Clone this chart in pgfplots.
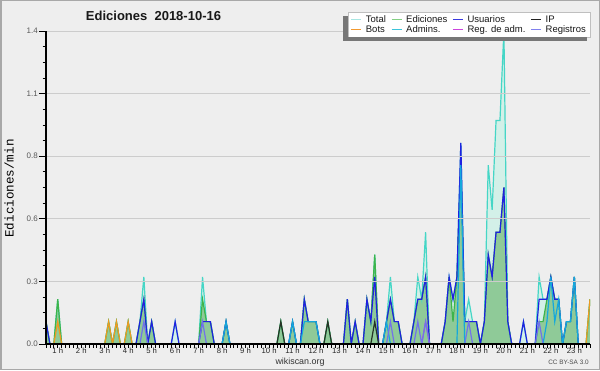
\documentclass[border=0pt]{standalone}
\usepackage{pgfplots}
\pgfplotsset{compat=1.18}
\usepackage{pgfplotstable}
\usepackage{fontspec}
\setmainfont{Liberation Sans}
\newfontfamily\monofont{Liberation Mono}

\definecolor{bg}{HTML}{EEEEEE}
\definecolor{framec}{HTML}{A8A8A8}
\definecolor{gridc}{HTML}{CCCCCC}
\definecolor{shadowc}{HTML}{777777}
\definecolor{cTot}{HTML}{45D6C6}
\definecolor{cTotFill}{HTML}{D3F0E8}
\definecolor{cEd}{HTML}{3DB44A}
\definecolor{cEdFill}{HTML}{88C690}
\definecolor{cUs}{HTML}{2020E0}
\definecolor{cIP}{HTML}{263326}
\definecolor{cBot}{HTML}{EE9A22}
\definecolor{cAdm}{HTML}{14A8DC}
\definecolor{cRA}{HTML}{C040E0}
\definecolor{cReg}{HTML}{7272EA}
\definecolor{lTot}{HTML}{A8E6E2}
\definecolor{lEd}{HTML}{84D084}
\definecolor{lUs}{HTML}{3A3AE0}
\definecolor{lIP}{HTML}{222222}
\definecolor{lBot}{HTML}{F29A30}
\definecolor{lAdm}{HTML}{3CC4DA}
\definecolor{lRA}{HTML}{CC44DD}
\definecolor{lReg}{HTML}{8080EE}

\pgfplotstableread{
k T E U I B A RA R
3 0.1 0.1 0.1 0 0 0 0 0
4 0 0 0 0 0 0 0 0
5 0 0 0 0 0 0 0 0
6 0.2 0.2 0 0 0.1 0 0 0
7 0 0 0 0 0 0 0 0
18 0 0 0 0 0 0 0 0
19 0.1 0.1 0 0 0.1 0 0 0
20 0 0 0 0 0 0 0 0
21 0.1 0.1 0 0 0.1 0 0 0
22 0 0 0 0 0 0 0 0
23 0 0 0 0 0 0 0 0
24 0.1 0.1 0 0 0.1 0 0 0
25 0 0 0 0 0 0 0 0
26 0 0 0 0 0 0 0 0
27 0.1 0.1 0.1 0 0 0 0 0
28 0.3 0.2 0.2 0 0 0 0 0.1
29 0 0 0 0 0 0 0 0
30 0.1 0.1 0.1 0 0 0 0 0
31 0 0 0 0 0 0 0 0
35 0 0 0 0 0 0 0 0
36 0.1 0 0.1 0 0 0 0 0
37 0 0 0 0 0 0 0 0
42 0 0 0 0 0 0 0 0
43 0.3 0.2 0.1 0 0 0 0 0.1
44 0.1 0.1 0.1 0 0 0 0 0
45 0.1 0.1 0.1 0 0 0 0 0
46 0 0 0 0 0 0 0 0
48 0 0 0 0 0 0 0 0
49 0.1 0.1 0.1 0 0 0.1 0 0
50 0 0 0 0 0 0 0 0
62 0 0 0 0 0 0 0 0
63 0.1 0.1 0 0.1 0 0 0 0
64 0 0 0 0 0 0 0 0
65 0 0 0 0 0 0 0 0
66 0.1 0.1 0.1 0 0 0.1 0 0
67 0 0 0 0 0 0 0 0
68 0 0 0 0 0 0 0 0
69 0.2 0.2 0.2 0 0 0.1 0 0
70 0.1 0.1 0.1 0 0 0.1 0 0
71 0.1 0.1 0.1 0 0 0.1 0 0
72 0.1 0.1 0.1 0 0 0.1 0 0
73 0 0 0 0 0 0 0 0
74 0 0 0 0 0 0 0 0
75 0.1 0.1 0 0.1 0 0 0 0
76 0 0 0 0 0 0 0 0
79 0 0 0 0 0 0 0 0
80 0.2 0.2 0.2 0 0 0 0 0
81 0 0 0 0 0 0 0 0
82 0.1 0.1 0.1 0 0 0 0 0
83 0 0 0 0 0 0 0 0
84 0 0 0 0 0 0 0 0
85 0.2 0.2 0.2 0 0 0 0 0
86 0.1 0.1 0.1 0 0 0 0 0
87 0.4 0.4 0.3 0.1 0 0 0 0
88 0 0 0 0 0 0 0 0
89 0 0 0 0 0 0 0 0
90 0.1 0.1 0.1 0 0 0.1 0 0
91 0.3 0.2 0.2 0 0 0 0 0.1
92 0.1 0.1 0.1 0 0 0 0 0
93 0.1 0.1 0.1 0 0 0 0 0
94 0 0 0 0 0 0 0 0
96 0 0 0 0 0 0 0 0
97 0.1 0.1 0.1 0 0 0 0 0
98 0.3 0.2 0.2 0 0 0 0 0.1
99 0.2 0.2 0.2 0 0 0 0 0
100 0.5 0.3 0.3 0 0 0 0.1 0.1
101 0 0 0 0 0 0 0 0
104 0 0 0 0 0 0 0 0
105 0.1 0.1 0.1 0 0 0 0 0
106 0.3 0.3 0.3 0 0 0 0 0
107 0.2 0.1 0.2 0 0 0 0 0
108 0.3 0.3 0.3 0 0 0 0 0
109 0.9 0.8 0.9 0 0 0.8 0 0
110 0.1 0.1 0.1 0 0 0 0 0
111 0.2 0.1 0.1 0 0 0 0 0.1
112 0.1 0.1 0.1 0 0 0 0 0
113 0.1 0.1 0.1 0 0 0 0 0
114 0 0 0 0 0 0 0 0
115 0.1 0.1 0.1 0 0 0 0 0
116 0.8 0.4 0.4 0 0 0 0 0
117 0.6 0.3 0.3 0 0 0 0 0
118 1.0 0.5 0.5 0 0 0 0 0
119 1.0 0.5 0.5 0 0 0 0 0
120 1.4 0.7 0.7 0 0 0 0 0
121 0.1 0.1 0.1 0 0 0 0 0
122 0 0 0 0 0 0 0 0
124 0 0 0 0 0 0 0 0
125 0.1 0 0.1 0 0 0 0 0
126 0 0 0 0 0 0 0 0
128 0 0 0 0 0 0 0 0
129 0.3 0.1 0.2 0 0 0 0 0.1
130 0.2 0.1 0.2 0 0 0 0 0
131 0.2 0.2 0.2 0 0 0.1 0 0
132 0.3 0.3 0.3 0 0 0.3 0 0
133 0.2 0.2 0.2 0 0 0.1 0 0
134 0.2 0.2 0.2 0 0 0.2 0 0
135 0 0 0 0 0 0 0 0
136 0.1 0.1 0.1 0 0 0.1 0 0
137 0.1 0.1 0.1 0 0 0.1 0 0
138 0.3 0.3 0.3 0 0 0.3 0 0
139 0 0 0 0 0 0 0 0
141 0 0 0 0 0 0 0 0
142 0.2 0.2 0 0 0.2 0 0 0
}\data

\begin{document}
\begin{tikzpicture}[x=1pt,y=1pt]
\fill[bg] (0,0) rectangle (600,370);
\draw[framec,line width=1.5pt] (0.75,0.75) rectangle (599.25,369.25);
\begin{axis}[
  at={(46pt,26pt)}, anchor=south west,
  scale only axis, width=544pt, height=313pt,
  xmin=0.5, xmax=23.6667, ymin=0, ymax=1.4,
  axis x line*=bottom, axis y line*=left,
  axis line style={black, line width=1.3pt},
  axis on top,
  ymajorgrids,
  major grid style={gridc, line width=0.8pt},
  tick align=outside,
  major tick length=7pt, minor tick length=3.5pt,
  tick style={black, line width=0.8pt},
  xtick={1,...,23},
  xticklabels={1 h,2 h,3 h,4 h,5 h,6 h,7 h,8 h,9 h,10 h,11 h,12 h,13 h,14 h,15 h,16 h,17 h,18 h,19 h,20 h,21 h,22 h,23 h},
  minor xtick={0.5,0.6666667,...,23.7},
  major x tick style={draw=none},
  ytick={0,0.28,0.56,0.84,1.12,1.4},
  yticklabels={0.0,0.3,0.6,0.8,1.1,1.4},
  minor y tick num=3,
  xticklabel style={font=\fontsize{7.7}{8}\selectfont, text=black!85, inner sep=0pt, yshift=3pt},
  yticklabel style={font=\fontsize{8}{8}\selectfont, text=black!65, inner sep=1pt},
  legend columns=4,
  legend cell align=left,
  legend style={at={(1,1.0617)}, anchor=north east, draw=black!25, fill=white,
    font=\fontsize{9.5}{10}\selectfont, text=black!90,
    inner xsep=3pt, inner ysep=2.5pt, row sep=0pt, column sep=0pt,
    /tikz/every odd column/.append style={column sep=3pt},
    /tikz/every even column/.append style={column sep=4pt},
    nodes={inner sep=1pt, text depth=1.5pt, text height=6.8pt}},
  legend image code/.code={\draw[#1, line width=1.2pt] (0pt,0pt) -- (10pt,0pt);},
]
\addlegendimage{lTot}\addlegendentry{Total}
\addlegendimage{lEd}\addlegendentry{Ediciones}
\addlegendimage{lUs}\addlegendentry{Usuarios}
\addlegendimage{lIP}\addlegendentry{IP}
\addlegendimage{lBot}\addlegendentry{Bots}
\addlegendimage{lAdm}\addlegendentry{Admins.}
\addlegendimage{lRA}\addlegendentry{Reg. de adm.}
\addlegendimage{lReg}\addlegendentry{Registros}

\addplot[draw=none, fill=cTotFill, forget plot] table[x expr=\thisrow{k}/6, y=T]{\data} \closedcycle;
\addplot[draw=none, fill=cEdFill, fill opacity=0.9, forget plot] table[x expr=\thisrow{k}/6, y=E]{\data} \closedcycle;
\addplot[cTot, line width=1.2pt, forget plot] table[x expr=\thisrow{k}/6, y=T]{\data};
\addplot[cEd, line width=1.2pt, forget plot] table[x expr=\thisrow{k}/6, y=E]{\data};
\addplot[cUs, line width=1.2pt, forget plot] table[x expr=\thisrow{k}/6, y=U]{\data};
\addplot[cIP, line width=1.2pt, forget plot] table[x expr=\thisrow{k}/6, y=I]{\data};
\addplot[cBot, line width=1.2pt, forget plot] table[x expr=\thisrow{k}/6, y=B]{\data};
\addplot[cAdm, line width=1.2pt, forget plot] table[x expr=\thisrow{k}/6, y=A]{\data};
\addplot[cRA, line width=1.2pt, forget plot] table[x expr=\thisrow{k}/6, y=RA]{\data};
\addplot[cReg, line width=1.2pt, forget plot] table[x expr=\thisrow{k}/6, y=R]{\data};
\end{axis}
% legend drop shadow strips (lower-left of the legend box)
\fill[shadowc] (343,328.5) rectangle (347.6,354.3);
\fill[shadowc] (343,328.5) rectangle (587,332.6);
\node[font=\bfseries\fontsize{13}{13}\selectfont, text=black!90] at (153.5,354) {Ediciones\ \ 2018-10-16};
\node[rotate=90, font=\monofont\fontsize{12.6}{13}\selectfont, text=black] at (9.2,181.5) {Ediciones/min};
\node[font=\fontsize{8.9}{9}\selectfont, text=black!80] at (300,8.3) {wikiscan.org};
\node[font=\fontsize{6.4}{7}\selectfont, text=black!70] at (568.5,7.7) {CC BY-SA 3.0};
\end{tikzpicture}
\end{document}
